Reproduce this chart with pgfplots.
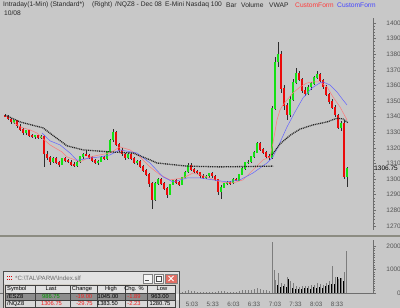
\documentclass[border=0pt]{standalone}
\usepackage{fontspec}
\setmainfont{Liberation Sans}
\usepackage{pgfplots}
\usepackage{pgfplotstable}
\pgfplotsset{compat=1.18}

\definecolor{bg}{RGB}{200,200,200}
\definecolor{cred}{RGB}{235,10,10}
\definecolor{cgreen}{RGB}{20,225,20}
\definecolor{wick}{RGB}{45,45,45}
\definecolor{mared}{RGB}{255,120,120}
\definecolor{mablue}{RGB}{100,100,255}
\definecolor{axgray}{RGB}{110,110,110}
\definecolor{lblgray}{RGB}{85,85,85}
\definecolor{sepgray}{RGB}{140,140,130}
\definecolor{volgray}{RGB}{125,125,125}
\definecolor{winface}{RGB}{212,208,200}
\definecolor{tbar}{RGB}{226,226,226}
\definecolor{hdr}{RGB}{224,224,224}
\definecolor{selrow}{RGB}{140,140,140}
\definecolor{rowtwo}{RGB}{216,216,216}
\definecolor{tred}{RGB}{240,30,30}
\definecolor{tgreen}{RGB}{0,150,0}
\definecolor{titlered}{RGB}{255,60,60}
\definecolor{titleblue}{RGB}{70,70,255}
\definecolor{titletext}{RGB}{40,40,40}

% candles: x (bar position) open high low close
\pgfplotstableread{
x o h l c
5 1341 1342 1339.5 1340
8 1340 1341 1338 1338.5
11 1338.5 1339 1335.5 1336.5
14 1336.5 1338 1335 1337.5
17 1337.5 1338 1333 1334
20 1334 1335 1331 1332
23 1332 1333 1328.5 1329.5
26 1329.5 1331.5 1328.5 1331
29 1331 1331.5 1327 1328
32 1328 1329 1326 1327
35 1327 1328.5 1326 1328
38 1328 1328.5 1326 1326.5
41 1326.5 1328 1325.5 1327.5
44 1327.5 1328 1308 1316
47 1316 1318 1312 1314
50 1314 1315 1309 1311
53 1311 1314 1310 1313
56 1313 1314 1309.5 1310.5
59 1310.5 1311.5 1308 1309.5
62 1309.5 1313.5 1309 1313
65 1313 1314 1311 1312
68 1312 1313 1310 1311
71 1311 1312.5 1308.5 1309.5
74 1309.5 1311 1307.5 1308.5
77 1308.5 1311.5 1308 1311
80 1311 1315 1310.5 1314.5
83 1314.5 1316.5 1313 1316
86 1316 1318 1314.5 1315
89 1315 1316 1313 1314
92 1314 1315 1311 1312
95 1312 1313 1309.5 1310.5
98 1310.5 1312 1309 1311.5
101 1311.5 1314.5 1311 1314
104 1314 1315 1312 1313
107 1313 1318 1312.5 1317.5
110 1317.5 1326 1317 1325
113 1325 1332 1324 1330
116 1330 1331 1321 1322
119 1322 1323 1317.5 1318.5
122 1318.5 1320 1315 1316
125 1316 1317 1312.5 1313.5
128 1313.5 1316.5 1313 1316
131 1316 1317 1312.5 1313
134 1313 1314 1309.5 1310.5
137 1310.5 1312 1309 1311.5
140 1311.5 1312 1307 1308
143 1308 1309 1304.5 1305.5
146 1305.5 1306.5 1302 1303
149 1303 1304 1295 1297
152 1297 1298 1281 1287
155 1287 1298 1286 1297
158 1297 1301 1296 1300
161 1300 1301 1296 1297
164 1297 1298 1293 1294
167 1294 1295 1288 1290
170 1290 1297 1289.5 1296.5
173 1296.5 1299.5 1296 1299
176 1299 1300 1297 1298
179 1298 1299 1295.5 1296.5
182 1296.5 1301.5 1296 1301
185 1301 1305 1300.5 1304.5
188 1304.5 1310 1304 1309
191 1309 1310 1305 1306
194 1306 1307 1304 1305
197 1305 1306 1303 1304
200 1304 1304.5 1301 1302
203 1302 1303 1300 1301
206 1301 1302.5 1300 1302
209 1302 1304 1301 1303.5
212 1303.5 1304.5 1301 1302
215 1302 1302.5 1298.5 1299.5
218 1299.5 1300 1290 1292
221 1292 1296 1287 1294.5
224 1294.5 1297.5 1294 1297
227 1297 1298.5 1296 1298
230 1298 1299 1296.5 1297.5
233 1297.5 1300.5 1297 1300
236 1300 1301 1298.5 1299
239 1299 1303.5 1298.5 1303
242 1303 1307.5 1302.5 1307
245 1307 1311 1306 1310.5
248 1310.5 1312 1309.5 1311
251 1311 1315 1310.5 1314.5
254 1314.5 1318 1313.5 1317
257 1317 1324 1316.5 1323
260 1323 1323.5 1318 1319
263 1319 1320 1316 1317
266 1317 1318 1313.5 1314.5
269 1314.5 1316 1312.5 1313.5
272 1313.5 1347 1313 1345
275 1345 1378 1344 1375
278 1375 1388 1372 1380
281 1380 1382 1355 1358
284 1358 1360 1344 1347
287 1347 1349 1338 1341
290 1341 1353 1340 1351
293 1351 1364 1350 1362
296 1362 1371 1361 1368
299 1368 1369 1363 1364
302 1364 1365 1355 1357
305 1357 1359 1353 1355
308 1355 1360 1354 1359
311 1359 1362 1357 1361
314 1361 1366 1360 1365
317 1365 1369.5 1364 1367
320 1367 1368 1362 1363
323 1363 1364 1358 1359
326 1359 1360 1353 1354
329 1354 1355 1348 1349.5
332 1349.5 1351 1345 1346
335 1346 1347.5 1340 1341
338 1341 1342 1332 1333
341 1333 1337 1331 1336
344 1336 1337 1300 1301.5
347 1301.5 1308 1295 1306.75
}\candles

% fast average (red)
\pgfplotstableread{
x y
13 1336.6
20 1333.4
30 1331.5
37 1329.5
42 1326.4
50 1321.9
55 1320.0
62 1317.4
67 1314.2
75 1312.3
80 1311.0
90 1314.2
100 1315.5
110 1316.7
120 1320.6
130 1318.7
140 1314.2
150 1307.8
160 1302.7
170 1299.5
183 1300.7
193 1303.9
207 1301.4
220 1298.2
233 1297.5
243 1299.5
253 1305.9
263 1312.3
270 1314.2
273 1323.2
277 1337.9
280 1344.3
283 1347.5
287 1350.7
293 1355.2
300 1359.0
307 1361.6
313 1362.2
320 1362.2
327 1359.0
333 1352.6
340 1346.2
347 1337.9
}\fastma

% slow average (blue)
\pgfplotstableread{
x y
42 1329.5
50 1324.5
60 1321.9
70 1316.7
77 1312.0
90 1313.5
100 1314.2
110 1315.5
120 1318.7
137 1316.7
150 1310.3
163 1301.4
173 1298.2
187 1300.7
200 1300.7
213 1299.5
227 1298.2
240 1299.5
253 1303.9
267 1310.3
273 1314.2
278 1320.6
287 1333.4
295 1343.0
303 1352.0
312 1358.4
320 1361.6
323 1362.2
330 1360.3
337 1355.8
343 1350.7
347 1347.5
}\slowma

% VWAP, previous session and current session
\pgfplotstableread{
x y
5 1341.0
20 1336.6
43 1332.8
55 1327.0
67 1321.3
83 1318.7
110 1317.4
133 1316.7
150 1312.3
157 1310.3
187 1308.3
220 1307.8
273 1308.3
}\vwapa
\pgfplotstableread{
x y
272 1315.5
280 1322.5
290 1328.0
300 1332.0
313 1334.7
327 1336.6
337 1339.0
343 1338.5
348 1336.0
}\vwapb

% volume (gray bars)
\pgfplotstableread{
x v
5 120
8 90
11 100
14 60
17 80
20 70
23 90
26 50
29 60
32 40
35 50
38 40
41 60
44 250
47 120
50 90
53 70
56 60
59 50
62 70
65 50
68 40
71 50
74 60
77 50
80 70
83 60
86 50
89 40
92 50
95 40
98 50
101 40
104 40
107 60
110 110
113 130
116 100
119 60
122 50
125 50
128 40
131 40
134 50
137 40
140 50
143 60
146 60
149 110
152 200
155 150
158 90
161 60
164 60
167 70
170 60
173 50
176 40
179 40
182 50
185 100
188 110
191 90
194 70
197 60
200 50
203 40
206 40
209 50
212 60
215 50
218 80
221 90
224 70
227 50
230 40
233 40
236 50
239 80
242 120
245 130
248 110
251 140
254 160
257 200
260 160
263 120
266 110
269 100
272.5 2190
274 960
275.5 560
278 870
281 410
284 380
287 660
290 490
293 420
296 300
299 250
302 300
305 280
308 300
311 320
314 350
317 420
320 380
323 350
326 420
329 500
332 1130
335 700
338 600
341 650
344.5 910
346.5 1770
}\volgray

% volume (black bars)
\pgfplotstableread{
x v
277 350
280 250
283 300
286 250
288.5 600
292 200
295 150
298 150
301 150
304 200
307 200
310 180
313 250
316 200
319 250
322 200
325 300
328 350
331 400
334 400
337 700
340 650
343 500
}\volblack

\begin{document}
\begin{tikzpicture}
\useasboundingbox (0,0) rectangle (400bp,308bp);
\fill[bg] (0,0) rectangle (400bp,308bp);

% ---------------- price panel ----------------
\begin{axis}[
  at={(0bp,78bp)}, anchor=south west,
  scale only axis, width=373bp, height=212bp,
  xmin=0, xmax=373, ymin=1267.4, ymax=1403.2,
  axis x line=none, axis y line*=right,
  axis line style={axgray, line width=0.6bp},
  ytick={1270,1280,...,1400},
  minor y tick num=4,
  tick align=outside,
  major tick length=3bp, minor tick length=1.5bp,
  every tick/.style={axgray, line width=0.5bp},
  /pgf/number format/1000 sep={},
  /pgf/number format/assume math mode=true,
  yticklabel style={anchor=east, inner sep=0pt, xshift=25bp,
     font=\fontsize{6.5}{7}\selectfont, text=lblgray},
  clip=true,
  candle/.style={draw=none, mark=none, forget plot,
     error bars/.cd, y dir=both, y explicit, error mark=none},
]
% wicks
\addplot[candle, error bar style={draw=wick, line width=0.7bp}]
  table[x=x, y expr={(\thisrow{h}+\thisrow{l})/2},
        y error expr={(\thisrow{h}-\thisrow{l})/2}] {\candles};
% down bodies
\addplot[candle, error bar style={draw=cred, line width=2.6bp}]
  table[x=x, y expr={\thisrow{c}<\thisrow{o} ? (\thisrow{o}+\thisrow{c})/2 : 0},
        y error expr={abs(\thisrow{c}-\thisrow{o})/2+0.25}] {\candles};
% up bodies
\addplot[candle, error bar style={draw=cgreen, line width=2.6bp}]
  table[x=x, y expr={\thisrow{c}<\thisrow{o} ? 0 : (\thisrow{o}+\thisrow{c})/2},
        y error expr={abs(\thisrow{c}-\thisrow{o})/2+0.25}] {\candles};
% averages
\addplot[mared, line width=0.5bp, mark=none] table[x=x, y=y] {\fastma};
\addplot[mablue, line width=0.5bp, mark=none] table[x=x, y=y] {\slowma};
\addplot[black!85, line width=1.3bp, mark=none, dash pattern=on 1bp off 0.8bp] table[x=x, y=y] {\vwapa};
\addplot[black!85, line width=1.3bp, mark=none, dash pattern=on 1bp off 0.8bp] table[x=x, y=y] {\vwapb};
\coordinate (lastp) at (axis cs:373,1306.75);
\end{axis}
% last price label on the price scale
\node[anchor=east, inner sep=0pt, xshift=25bp, font=\fontsize{6.5}{7}\selectfont, text=black]
  at (lastp) {1306.75};

% separator
\draw[sepgray, line width=2bp] (0bp,72bp) -- (400bp,72bp);

% ---------------- volume panel ----------------
\begin{axis}[
  at={(0bp,15bp)}, anchor=south west,
  scale only axis, width=373bp, height=53bp,
  xmin=0, xmax=373, ymin=0, ymax=2255,
  axis x line*=bottom, axis y line*=right,
  axis line style={axgray, line width=0.6bp},
  ytick={0,1000,2000},
  minor y tick num=9,
  xtick={192,212.7,233.4,254.1,274.9,295.6,316.3,337},
  xticklabels={5:03,5:33,6:03,6:33,7:03,7:33,8:03,8:33},
  xtick style={draw=none},
  tick align=outside,
  major tick length=3bp, minor tick length=1.5bp,
  every tick/.style={axgray, line width=0.5bp},
  /pgf/number format/1000 sep={},
  /pgf/number format/assume math mode=true,
  yticklabel style={anchor=east, inner sep=0pt, xshift=25bp,
     font=\fontsize{6.5}{7}\selectfont, text=lblgray},
  xticklabel style={anchor=north, inner sep=0pt, yshift=-6bp,
     font=\fontsize{6.3}{7}\selectfont, text=lblgray},
]
\addplot[ycomb, volgray, line width=1bp, mark=none] table[x=x, y=v] {\volgray};
\addplot[ycomb, black, line width=1bp, mark=none] table[x=x, y=v] {\volblack};
\end{axis}

% ---------------- title text ----------------
\begin{scope}[every node/.style={anchor=west, inner sep=0pt, font=\fontsize{6.7}{7}\selectfont, text=titletext}]
\node at (3bp,303bp) {Intraday(1-Min) (Standard*)};
\node at (92bp,303bp) {(Right)};
\node at (115bp,303bp) {/NQZ8 - Dec 08};
\node at (165bp,303bp) {E-Mini Nasdaq 100};
\node at (226bp,303bp) {Bar};
\node at (241bp,303bp) {Volume};
\node at (269bp,303bp) {VWAP};
\node[text=titlered] at (295bp,303bp) {CustomForm};
\node[text=titleblue] at (337bp,303bp) {CustomForm};
\node at (4bp,295bp) {10/08};
\end{scope}

% ---------------- quote window ----------------
\begin{scope}[x=1bp, y=1bp]
\fill[winface] (3,-2) rectangle (180,37);
\draw[gray!60!black, line width=0.6bp] (3.3,-2) -- (3.3,36.7) -- (179.7,36.7) -- (179.7,-2);
\fill[tbar] (4,23.5) rectangle (179,36);
\foreach \i in {0,1,2} {
  \fill[red!85!black] (7+\i*2,30.5) rectangle ++(1.3,1.3);
  \fill[red!85!black] (7+\i*2,28) rectangle ++(1.3,1.3);
}
\node[anchor=west, inner sep=0pt, text=gray!85!black, font=\fontsize{6.2}{7}\selectfont]
  at (15,30) {*C:\textbackslash TAL\textbackslash PARW\textbackslash Index.slf};
\draw[fill=gray!8, draw=gray] (143,25) rectangle (152,34);
\draw[black!70, line width=0.8bp] (145,27.3) -- (148.5,27.3);
\draw[fill=gray!8, draw=gray] (154,25) rectangle (163,34);
\draw[gray!60!black, line width=0.5bp] (156,27) rectangle (161,32);
\draw[fill={rgb,255:red,225;green,110;blue,100}, draw=gray] (165,25) rectangle (177,34);
\draw[white, line width=0.9bp] (168.5,27) -- (173.5,32) (168.5,32) -- (173.5,27);
% table
\fill[hdr] (5,15) rectangle (175,23);
\fill[selrow] (5,8) rectangle (175,15);
\fill[rowtwo] (5,-2) rectangle (175,8);
\fill[gray!35] (175,-2) rectangle (179,23);
\fill[gray!15] (175.5,8) rectangle (178.5,14.5);
\draw[black!75, line width=0.4bp] (5,23) -- (175,23) (5,15) -- (175,15) (5,8) -- (175,8) (5,0.5) -- (175,0.5);
\foreach \xx in {5,35,70,97,125,147,175} { \draw[black!75, line width=0.4bp] (\xx,-2) -- (\xx,23); }
\begin{scope}[every node/.style={inner sep=0pt, font=\fontsize{5.8}{6.5}\selectfont}]
\node[anchor=west] at (7,19) {Symbol};
\node at (51,19) {Last};
\node at (82,19) {Change};
\node at (111,19) {High};
\node at (134,19) {Chg. \%};
\node at (162,19) {Low};
\node[anchor=west] at (7,11.5) {/ESZ8};
\node[text=tgreen] at (51,11.5) {986.75};
\node[text=tred] at (84,11.5) {-19.00};
\node at (108,11.5) {1045.00};
\node[text=tred] at (134,11.5) {-1.89};
\node at (160,11.5) {963.00};
\node[anchor=west] at (7,4) {/NQZ8};
\node[text=tred] at (51.5,4) {1306.75};
\node[text=tred] at (84.5,4) {-29.75};
\node at (107.5,4) {1383.50};
\node[text=tred] at (134,4) {-2.23};
\node at (160,4) {1280.75};
\end{scope}
\end{scope}
\end{tikzpicture}
\end{document}
